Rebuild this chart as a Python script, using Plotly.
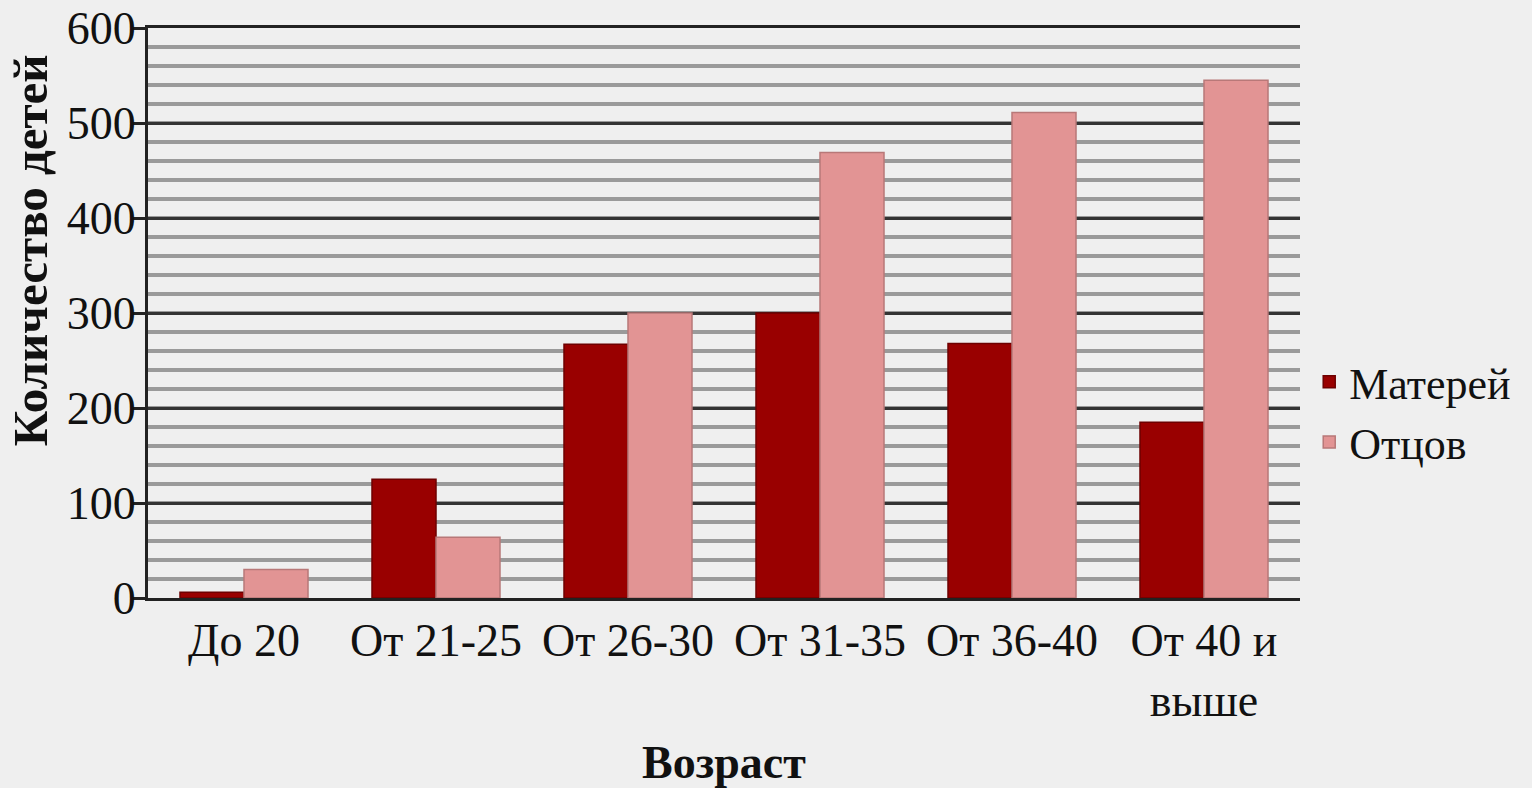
import plotly.graph_objects as go

categories = ["До 20", "От 21-25", "От 26-30", "От 31-35", "От 36-40", "От 40 и<br>выше"]
mothers = [6, 125, 267, 300, 268, 185]
fathers = [30, 64, 300, 469, 511, 545]
y_ticks = [0, 100, 200, 300, 400, 500, 600]

FONT = '"Liberation Serif", "Times New Roman", Times, serif'
BG = "#efefef"

fig = go.Figure()
fig.add_trace(go.Bar(x=categories, y=mothers, name="Матерей",
                     marker=dict(color="#990000", line=dict(color="#6e0000", width=1.5))))
fig.add_trace(go.Bar(x=categories, y=fathers, name="Отцов",
                     marker=dict(color="#e29494", line=dict(color="#b87878", width=1.5))))

fig.update_layout(
    width=1532, height=788,
    paper_bgcolor=BG, plot_bgcolor=BG,
    margin=dict(l=148, r=232, t=28, b=190, autoexpand=False),
    barmode="group", bargap=1/3, bargroupgap=0,
    font=dict(family=FONT, color="#111111", size=46),
    legend=dict(x=1.008, xanchor="left", y=0.326, yanchor="middle",
                font=dict(size=44), bgcolor="rgba(0,0,0,0)",
                itemwidth=30, tracegroupgap=0),
    xaxis=dict(
        automargin=False,
        showline=True, linecolor="#222222", linewidth=3, mirror=True,
        ticks="", tickfont=dict(size=46),
        showgrid=False,
    ),
    yaxis=dict(
        automargin=False,
        range=[0, 600], tickvals=y_ticks,
        showline=True, linecolor="#222222", linewidth=3,
        ticks="outside", ticklen=12, tickwidth=3, tickcolor="#222222",
        tickfont=dict(size=46), ticklabelstandoff=-12,
        showgrid=True, gridcolor="#333333", gridwidth=3,
        minor=dict(dtick=20, showgrid=True, gridcolor="#9a9a9a", gridwidth=3.5, ticks=""),
        zeroline=False,
    ),
    annotations=[
        dict(
            text="<b>Количество детей</b>", textangle=-90,
            xref="paper", yref="paper", x=-0.1024, y=0.61,
            xanchor="center", yanchor="middle", showarrow=False,
            font=dict(size=49, family=FONT, color="#111111"),
        ),
        dict(
            text="<b>Возраст</b>",
            xref="paper", yref="paper", x=0.5, y=-0.289,
            xanchor="center", yanchor="middle", showarrow=False,
            font=dict(size=46, family=FONT, color="#111111"),
        ),
    ],
)

fig.write_html("out.html", config={"displayModeBar": False},
               post_script="document.body.style.margin='0';")
